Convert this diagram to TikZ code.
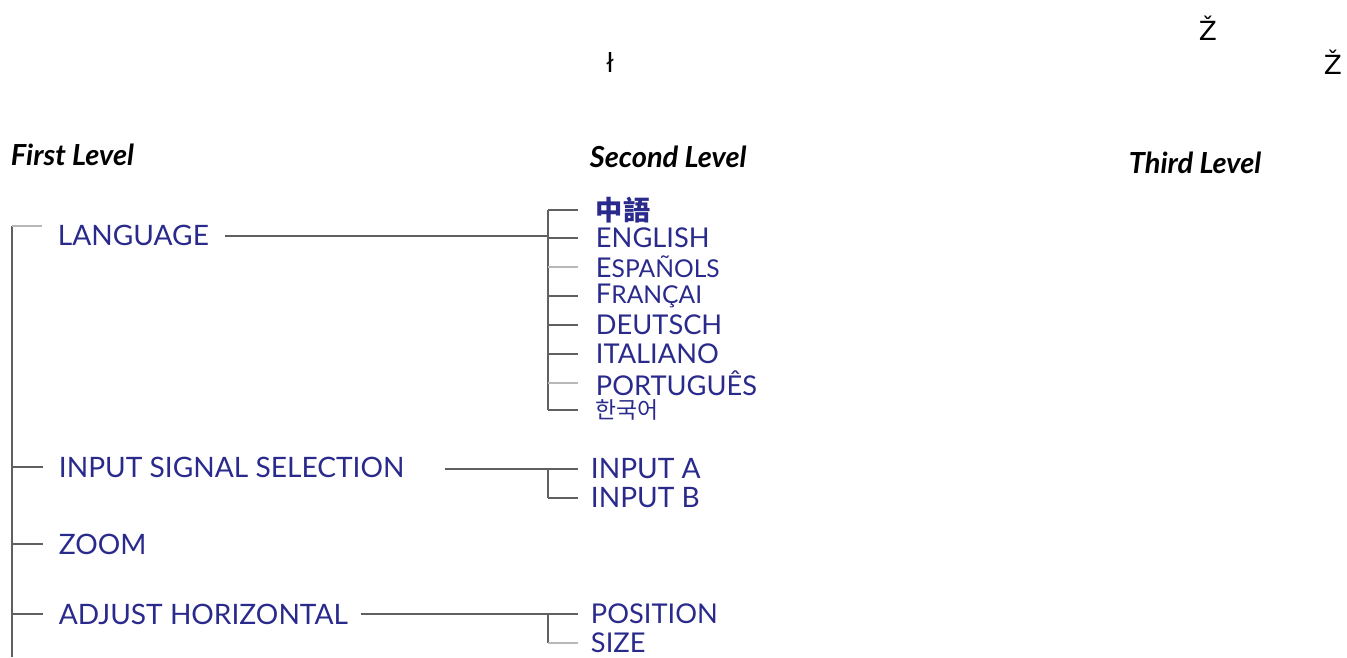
\documentclass[tikz,border=0pt]{standalone}
\usepackage{fontspec}
\setmainfont{Lato}
\newfontfamily\cjktc{Noto Sans CJK TC}
\newfontfamily\cjkkr{Noto Sans CJK KR}
\newfontfamily\glyphfont{DejaVu Sans}

\definecolor{menublue}{HTML}{2A2A8C}
\definecolor{treegray}{HTML}{606060}
\definecolor{treelight}{HTML}{B8B8B8}

\begin{document}
\begin{tikzpicture}[x=0.02cm,y=-0.02cm,line width=1.1pt]
   \useasboundingbox (0,0) rectangle (1347,657);
   % stray glyphs at the top
   \begin{scope}[every node/.style={inner sep=0pt,font=\glyphfont\fontsize{15}{15}\selectfont}]
    \node (g1) at (610,62) {ł};
    \node (g2) at (1208,28) {Ž};
    \node (g3) at (1333,62) {Ž};
   \end{scope}
   % column headings
   \begin{scope}[every node/.style={anchor=west,inner sep=0pt,font=\bfseries\itshape\fontsize{16.5}{16.5}\selectfont}]
    \node (h1) at (10,155) {First Level};
    \node (h2) at (589,157) {Second Level};
    \node (h3) at (1128,163) {Third Level};
   \end{scope}
   % first level
   \begin{scope}[every node/.style={anchor=west,inner sep=0pt,text=menublue,font=\fontsize{16}{16}\selectfont}]
    \node (lang) at (57,235) {LANGUAGE};
    \node (input) at (58,467) {INPUT SIGNAL SELECTION};
    \node (zoom) at (58,544) {ZOOM};
    \node (adjh) at (58,614) {ADJUST HORIZONTAL};
   \end{scope}
   % second level
   \begin{scope}[every node/.style={anchor=west,inner sep=0pt,text=menublue,font=\fontsize{15.5}{15.5}\selectfont}]
    \node (zh) at (595,210) {\cjktc\bfseries 中語};
    \node (en) at (595,238) {ENGLISH};
    \node (es) at (595,267) {E{\fontsize{14}{14}\selectfont SPAÑOLS}};
    \node (fr) at (595,296) {F{\fontsize{14}{14}\selectfont RANÇAI}};
    \node (de) at (595,325) {DEUTSCH};
    \node (it) at (595,354) {ITALIANO};
    \node (pt) at (595,383) {PORTUGUÊS};
    \node (ko) at (595,410) {\cjkkr\fontsize{13}{13}\selectfont 한국어};
    \node (ina) at (590,469) {\fontsize{16}{16}\selectfont INPUT A};
    \node (inb) at (590,498) {\fontsize{16}{16}\selectfont INPUT B};
    \node (pos) at (590,614) {POSITION};
    \node (size) at (590,643) {SIZE};
   \end{scope}
   % forks
   \coordinate (trunk) at (12,226);
   \coordinate (trunkend) at (12,657);
   \coordinate (langfork) at (548,236);
   \coordinate (inputfork) at (548,469);
   \coordinate (adjhfork) at (548,614);
   % tree lines
   \begin{scope}[draw=treegray]
    \draw (trunkend) -- (trunk);
    \draw[treelight] (trunk) -- ++(30,0);
    \draw[shorten >=0.3cm] (trunk |- input.west) -- (input.west);
    \draw[shorten >=0.3cm] (trunk |- zoom.west) -- (zoom.west);
    \draw[shorten >=0.3cm] (trunk |- adjh.west) -- (adjh.west);
    \draw[shorten <=0.3cm] (lang.east |- langfork) -- (langfork);
    \draw[shorten <=0.8cm] (input.east |- inputfork) -- (inputfork);
    \draw[shorten <=0.24cm] (adjh.east |- adjhfork) -- (adjhfork);
    \draw (langfork |- zh.west) -- (langfork |- ko.west);
    \draw (inputfork) -- (inputfork |- inb.west);
    \draw (adjhfork) -- (adjhfork |- size.west);
   \end{scope}
   \begin{scope}[draw=treegray,shorten >=0.34cm]
    \draw (langfork |- zh.west) -- (zh.west);
    \draw (langfork |- en.west) -- (en.west);
    \draw[treelight] (langfork |- es.west) -- (es.west);
    \draw (langfork |- fr.west) -- (fr.west);
    \draw (langfork |- de.west) -- (de.west);
    \draw (langfork |- it.west) -- (it.west);
    \draw[treelight] (langfork |- pt.west) -- (pt.west);
    \draw (langfork |- ko.west) -- (ko.west);
   \end{scope}
   \begin{scope}[draw=treegray,shorten >=0.24cm]
    \draw (inputfork) -- (ina.west);
    \draw (inputfork |- inb.west) -- (inb.west);
    \draw (adjhfork) -- (pos.west);
    \draw[treelight] (adjhfork |- size.west) -- (size.west);
   \end{scope}
\end{tikzpicture}
\end{document}
